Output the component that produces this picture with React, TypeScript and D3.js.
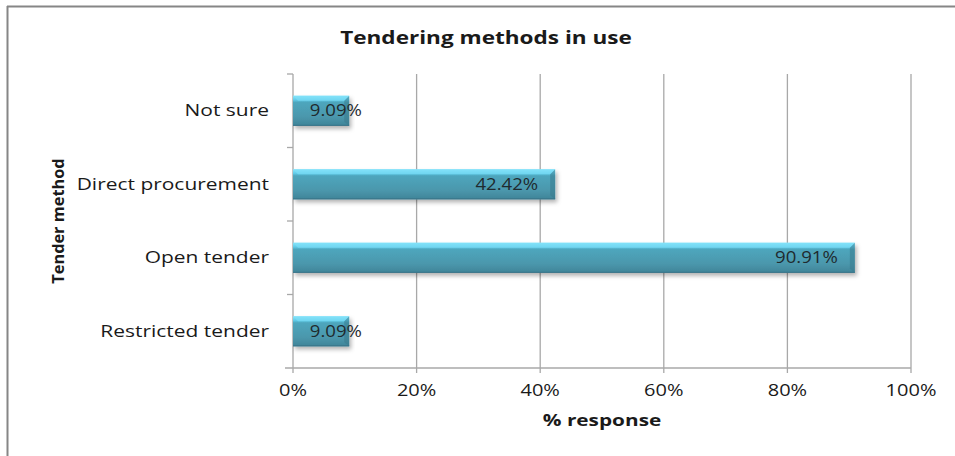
import React from 'react';
import * as d3 from 'd3';

const categories = ['Restricted tender', 'Open tender', 'Direct procurement', 'Not sure'];
const responses = [9.09, 90.91, 42.42, 9.09];
const xTicks = [0, 20, 40, 60, 80, 100];

const chartTitle = 'Tendering methods in use';
const xTitle = '% response';
const yTitle = 'Tender method';

const W = 955;
const H = 456;
const margin = { top: 74, right: 44, bottom: 88, left: 293 };
const FONT = '"Open Sans", Lato, sans-serif';
const SX = 1.22; // the original text is drawn wide

const T: React.FC<{
  x: number;
  y: number;
  size: number;
  anchor?: 'start' | 'middle' | 'end';
  bold?: boolean;
  rotate?: number;
  sx?: number;
  fill?: string;
  children: React.ReactNode;
}> = ({ x, y, size, anchor = 'middle', bold, rotate = 0, sx = SX, fill = '#1a1a1a', children }) => (
  <text
    transform={`translate(${x},${y}) rotate(${rotate}) scale(${sx},1)`}
    textAnchor={anchor}
    fontFamily={FONT}
    fontSize={size}
    fontWeight={bold ? 700 : 400}
    fill={fill}
  >
    {children}
  </text>
);

export default function App() {
  const innerW = W - margin.left - margin.right;
  const innerH = H - margin.top - margin.bottom;

  const x = d3.scaleLinear().domain([0, 100]).range([margin.left, margin.left + innerW]);
  const y = d3
    .scaleBand<string>()
    .domain([...categories].reverse())
    .range([margin.top, margin.top + innerH])
    .paddingInner(0.59)
    .paddingOuter(0.295);
  const band = d3
    .scaleBand<string>()
    .domain([...categories].reverse())
    .range([margin.top, margin.top + innerH]);

  const bottom = margin.top + innerH;
  const grid = '#a8a8a8';

  return (
    <svg width={W} height={H} style={{ position: 'absolute', left: 0, top: 0, background: '#fff' }}>
      <defs>
        <linearGradient id="barFill" x1="0" y1="0" x2="0" y2="1">
          <stop offset="0%" stopColor="#8ae6fb" />
          <stop offset="14%" stopColor="#5fcbe8" />
          <stop offset="22%" stopColor="#4ea6bd" />
          <stop offset="70%" stopColor="#4b97ac" />
          <stop offset="100%" stopColor="#3f8498" />
        </linearGradient>
        <filter id="shadow" x="-5%" y="-20%" width="115%" height="160%">
          <feDropShadow dx="2" dy="3" stdDeviation="2" floodColor="#000" floodOpacity="0.3" />
        </filter>
      </defs>

      {/* outer frame */}
      <line x1={7} x2={W} y1={6.5} y2={6.5} stroke="#868686" strokeWidth={2} />
      <line x1={7.5} x2={7.5} y1={6} y2={H} stroke="#868686" strokeWidth={2} />

      <T x={486} y={44} size={18.5} bold sx={1.22}>
        {chartTitle}
      </T>

      {/* gridlines */}
      {xTicks.map((t) => (
        <line key={t} x1={x(t)} x2={x(t)} y1={margin.top} y2={bottom + 5} stroke={grid} strokeWidth={1.3} />
      ))}
      <line x1={margin.left - 8} x2={x(100)} y1={bottom} y2={bottom} stroke={grid} strokeWidth={1.3} />
      {band.domain().map((c) => (
        <line
          key={c}
          x1={margin.left - 6}
          x2={margin.left}
          y1={band(c)!}
          y2={band(c)!}
          stroke={grid}
          strokeWidth={1.3}
        />
      ))}

      {/* bars */}
      {categories.map((c, i) => {
        const v = responses[i];
        const y0 = y(c)!;
        const bh = y.bandwidth();
        const x0 = x(0);
        const x1 = x(v);
        const lx = Math.max(x1 - 17, x0 + 69);
        return (
          <g key={c}>
            <rect x={x0} y={y0} width={x1 - x0} height={bh} fill="url(#barFill)" filter="url(#shadow)" />
            <polygon
              points={`${x1 - 5},${y0 + 5} ${x1},${y0} ${x1},${y0 + bh} ${x1 - 5},${y0 + bh - 4}`}
              fill="#3b7a8c"
              opacity={0.55}
            />
            <polygon
              points={`${x0},${y0} ${x1},${y0} ${x1 - 5},${y0 + 5} ${x0 + 5},${y0 + 5}`}
              fill="#7fe0f8"
              opacity={0.6}
            />
            <line x1={x0} x2={x1} y1={y0 + bh - 0.5} y2={y0 + bh - 0.5} stroke="#3a7488" strokeWidth={1} />
            <T x={lx} y={y0 + bh / 2 + 5.5} size={15.5} anchor="end" sx={1.2} fill="#1f2a2e">
              {`${v.toFixed(2)}%`}
            </T>
          </g>
        );
      })}

      {/* category labels */}
      {categories.map((c) => (
        <T key={c} x={269} y={y(c)! + y.bandwidth() / 2 + 5.5} size={16.5} anchor="end" sx={1.27}>
          {c}
        </T>
      ))}

      {/* x tick labels */}
      {xTicks.map((t) => (
        <T key={t} x={x(t)} y={396} size={16} sx={1.25}>
          {`${t}%`}
        </T>
      ))}

      <T x={602} y={426} size={16} bold sx={1.3}>
        {xTitle}
      </T>
      <T x={64} y={221} size={16} bold rotate={-90} sx={1.02}>
        {yTitle}
      </T>
    </svg>
  );
}
